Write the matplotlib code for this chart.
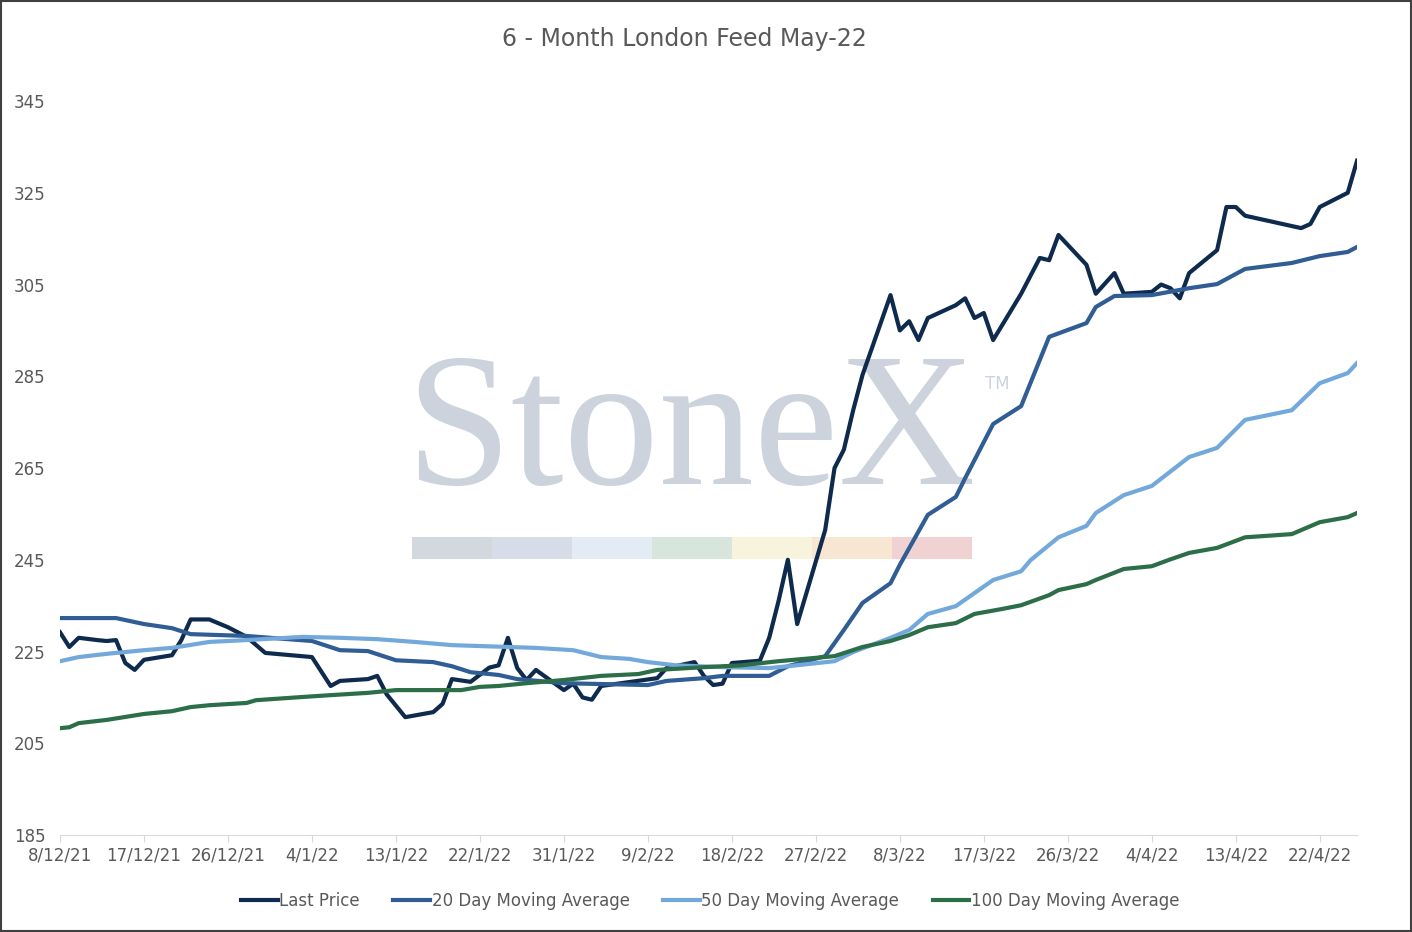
import datetime as dt
import matplotlib
matplotlib.use("Agg")
import matplotlib.pyplot as plt
from matplotlib.patches import Rectangle

start = dt.date(2021, 12, 8)

# days since 8/12/21 and values
last_days = [0,1,2,4,5,6,7,8,9,12,13,14,16,18,20,22,27,29,30,33,34,35,37,40,41,42,44,46,47,48,49,50,51,54,55,56,57,58,64,65,68,69,70,71,72,75,76,77,78,79,82,83,84,85,86,89,90,91,92,93,96,97,98,99,100,103,105,106,107,110,111,113,114,117,118,119,120,121,124,125,126,127,133,134,135,138,139]
last_vals = [229.2,226,228,227.5,227.3,227.5,222.5,221,223.2,224.2,227.5,232,232,230.3,228.2,224.7,223.8,217.5,218.6,219,219.7,215.7,210.7,211.8,213.6,219,218.4,221.5,222,228,221.4,218.8,221,216.6,218,215,214.5,217.5,219.2,221.4,222.7,219.7,217.7,218,222.5,223,228,236,245,231,251.5,265,269,277.6,285.3,302.7,295,297,292.9,297.7,300.5,302,297.7,298.8,292.9,303,310.8,310.3,315.8,309.3,303,307.5,303,303.4,305,304.2,302,307.5,312.5,321.9,321.9,320,317.3,318.2,321.9,325,332]

ma20_days = [0,6,9,12,14,20,27,30,33,36,40,42,44,47,49,54,63,65,69,71,76,78,82,84,86,89,90,93,96,97,100,103,106,110,111,113,117,121,124,127,132,135,138,139]
ma20_vals = [232.3,232.3,231,230.1,228.8,228.4,227.3,225.3,225.1,223.1,222.7,221.8,220.5,219.9,219,218.1,217.7,218.6,219.2,219.7,219.7,221.8,224,229.7,235.6,239.9,243.9,254.8,258.7,262.8,274.6,278.5,293.6,296.6,300.1,302.5,302.7,304.2,305.1,308.4,309.7,311.2,312.1,313.2]

ma50_days = [0,2,5,9,12,16,20,26,30,34,38,42,48,51,55,58,61,63,66,71,76,78,83,85,89,91,93,96,100,103,104,107,110,111,114,117,121,124,127,132,135,138,139]
ma50_vals = [222.9,223.8,224.5,225.3,225.8,227.1,227.5,228.2,228,227.7,227.1,226.4,226,225.8,225.3,223.8,223.4,222.7,222,221.6,221.4,221.8,222.9,224.9,228,229.7,233.2,234.9,240.6,242.5,244.9,249.9,252.4,255.2,259.1,261.1,267.4,269.4,275.5,277.6,283.5,285.7,287.9]

ma100_days = [0,1,2,5,9,12,14,16,20,21,26,29,33,36,43,45,47,50,54,58,62,64,69,73,77,83,86,89,91,93,96,98,101,103,106,107,110,111,114,117,119,121,124,127,132,135,138,139]
ma100_vals = [208.3,208.5,209.4,210.1,211.4,212,212.9,213.3,213.8,214.4,215.1,215.5,216,216.6,216.6,217.3,217.5,218.1,218.8,219.7,220.1,221,221.6,222,222.9,224,226,227.3,228.6,230.3,231.2,233.2,234.3,235.1,237.3,238.4,239.7,240.6,243,243.6,245.1,246.5,247.6,249.9,250.6,253.2,254.3,255.2]

series = [
    ("Last Price", last_days, last_vals, "#0e2b4d"),
    ("20 Day Moving Average", ma20_days, ma20_vals, "#2f5d94"),
    ("50 Day Moving Average", ma50_days, ma50_vals, "#72a9da"),
    ("100 Day Moving Average", ma100_days, ma100_vals, "#2b6e48"),
]

fig = plt.figure(figsize=(14.12, 9.32), dpi=100)
ax = fig.add_axes([0.0425, 0.104, 0.9186, 0.7876])

# watermark
ax.text(0.486, 0.54, "StoneX", transform=ax.transAxes, ha="center", va="center",
        fontsize=137, family="Liberation Serif", color="#cdd3dc", zorder=0)
ax.text(0.713, 0.608, "TM", transform=ax.transAxes, fontsize=12, color="#cdd3dc", zorder=0)
bar_cols = ["#d3d7de", "#d6dde8", "#e3ecf5", "#d7e5dc", "#f7f3dc", "#f7e6d1", "#f1d2d3"]
for i, c in enumerate(bar_cols):
    ax.add_patch(Rectangle((0.2715 + i * 0.0617, 0.376), 0.0617, 0.03,
                           transform=ax.transAxes, color=c, zorder=0, lw=0))

for name, d, v, c in series:
    ax.plot(d, v, color=c, lw=3, label=name, zorder=2)

ax.set_xlim(0, 139)
ax.set_ylim(185, 345)
ax.set_yticks(range(185, 346, 20))
ticks = list(range(0, 139, 9))
labels = []
for t in ticks:
    d = start + dt.timedelta(days=t)
    labels.append(f"{d.day}/{d.month}/{d.year % 100}")
ax.set_xticks(ticks)
ax.set_xticklabels(labels)
ax.tick_params(colors="#595959", labelsize=12, length=0)
ax.tick_params(axis="x", length=5, color="#d9d9d9")
for s in ["top", "right", "left"]:
    ax.spines[s].set_visible(False)
ax.spines["bottom"].set_color("#d9d9d9")
ax.yaxis.set_tick_params(pad=33)
for lab in ax.get_yticklabels():
    lab.set_horizontalalignment("left")

fig.text(0.485, 0.958, "6 - Month London Feed May-22", ha="center", va="center",
         fontsize=17, color="#595959")
fig.legend(loc="center", bbox_to_anchor=(0.503, 0.033), ncol=4, frameon=False,
           fontsize=12, labelcolor="#595959", handlelength=2.2, columnspacing=2.0,
           handletextpad=0.1)
fig.patches.append(Rectangle((0.001, 0.001), 0.998, 0.998, transform=fig.transFigure,
                             fill=False, edgecolor="#404040", lw=1.5))
fig.savefig("out.png", dpi=100)
